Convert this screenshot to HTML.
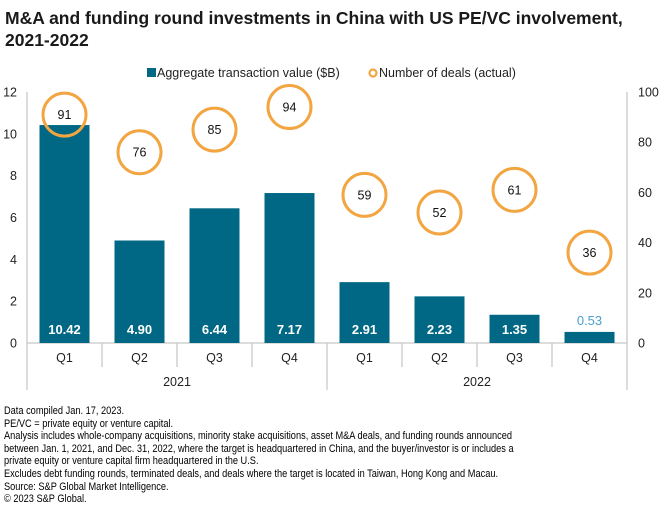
<!DOCTYPE html>
<html><head><meta charset="utf-8"><style>
body{margin:0;background:#fff;width:660px;height:520px;overflow:hidden;font-family:"Liberation Sans",sans-serif;color:#000}
#title{position:absolute;left:5px;top:7px;font-size:17.5px;font-weight:bold;line-height:22px;width:655px;color:#1a1a1a}
#notes{position:absolute;left:4px;top:405px;font-size:10.8px;line-height:12.6px;color:#000;white-space:nowrap;transform:scaleX(0.855);transform-origin:left top}
svg{position:absolute;left:0;top:0}
</style></head><body>
<div id="title">M&amp;A and funding round investments in China with US PE/VC involvement, 2021-2022</div>
<svg id="chart" width="660" height="520"></svg>
<div id="notes">Data compiled Jan. 17, 2023.<br>PE/VC = private equity or venture capital.<br>Analysis includes whole-company acquisitions, minority stake acquisitions, asset M&amp;A deals, and funding rounds announced<br>between Jan. 1, 2021, and Dec. 31, 2022, where the target is headquartered in China, and the buyer/investor is or includes a<br>private equity or venture capital firm headquartered in the U.S.<br>Excludes debt funding rounds, terminated deals, and deals where the target is located in Taiwan, Hong Kong and Macau.<br>Source: S&amp;P Global Market Intelligence.<br>© 2023 S&amp;P Global.</div>
<script>
const quarters=["Q1","Q2","Q3","Q4","Q1","Q2","Q3","Q4"];
const years=["2021","2022"];
const values=[10.42,4.90,6.44,7.17,2.91,2.23,1.35,0.53];
const deals=[91,76,85,94,59,52,61,36];
const leftTicks=[0,2,4,6,8,10,12];
const rightTicks=[0,20,40,60,80,100];
const NS="http://www.w3.org/2000/svg";
const svg=document.getElementById('chart');
const X0=27,X1=627,Y0=343,Y1=92;
const bw=(X1-X0)/quarters.length;
const yL=v=>Y0-(v/12)*(Y0-Y1);
const yR=v=>Y0-(v/100)*(Y0-Y1);
const xC=i=>X0+bw*(i+0.5);
function mk(t,a,txt){const e=document.createElementNS(NS,t);for(const k in a)e.setAttribute(k,a[k]);if(txt!==undefined)e.textContent=txt;svg.appendChild(e);return e;}
const F='"Liberation Sans",sans-serif';
let e;
e=mk('line',{x1:X0,y1:Y1,x2:X0,y2:390,stroke:'#c8c8c8','stroke-width':1.3});

e=mk('line',{x1:X1,y1:Y1,x2:X1,y2:390,stroke:'#c8c8c8','stroke-width':1.3});

e=mk('line',{x1:X0,y1:Y0,x2:X1,y2:Y0,stroke:'#c8c8c8','stroke-width':1.3});

for(let i=1;i<quarters.length;i++){
  const x=X0+bw*i;
  e=mk('line',{x1:x,y1:Y0,x2:x,y2:i===4?390:367,stroke:'#c8c8c8','stroke-width':1.3});
  
}
leftTicks.forEach(t=>{e=mk('text',{x:17,y:yL(t)+4.5,'text-anchor':'end','font-size':12.5,'font-family':F,fill:'#222'},t);
});
rightTicks.forEach(t=>{e=mk('text',{x:638,y:yR(t)+4.5,'font-size':12.5,'font-family':F,fill:'#222'},t);
});
quarters.forEach((q,i)=>{e=mk('text',{x:xC(i),y:362,'text-anchor':'middle','font-size':12.5,'font-family':F,fill:'#222'},q);
});
years.forEach((y,i)=>{e=mk('text',{x:X0+bw*(4*i+2),y:386,'text-anchor':'middle','font-size':12.5,'font-family':F,fill:'#222'},y);
});
values.forEach((v,i)=>{
  e=mk('rect',{x:xC(i)-25,y:yL(v),width:50,height:Y0-yL(v),fill:'#006884'});
  
  const inside=(Y0-yL(v))>25;
  e=mk('text',{x:xC(i),y:inside?334:yL(v)-7,'text-anchor':'middle','font-size':13,'font-weight':inside?'bold':'normal','font-family':F,fill:inside?'#fff':'#4c9ed0'},v.toFixed(2));
  
});
deals.forEach((d,i)=>{
  e=mk('circle',{cx:xC(i),cy:yR(d),r:21.5,fill:'none',stroke:'#f2a541','stroke-width':3});
  
  e=mk('text',{x:xC(i),y:yR(d)+4.5,'text-anchor':'middle','font-size':12.5,'font-family':F,fill:'#111'},d);
  
});
e=mk('rect',{x:147,y:68,width:9,height:9,fill:'#006884'});

e=mk('text',{x:157,y:77,'font-size':12.5,'font-family':F,fill:'#222'},'Aggregate transaction value ($B)');

e=mk('circle',{cx:373,cy:73,r:3.5,fill:'none',stroke:'#f2a541','stroke-width':2.2});

e=mk('text',{x:379,y:77,'font-size':12.5,'font-family':F,fill:'#222'},'Number of deals (actual)');

</script>
</body></html>
